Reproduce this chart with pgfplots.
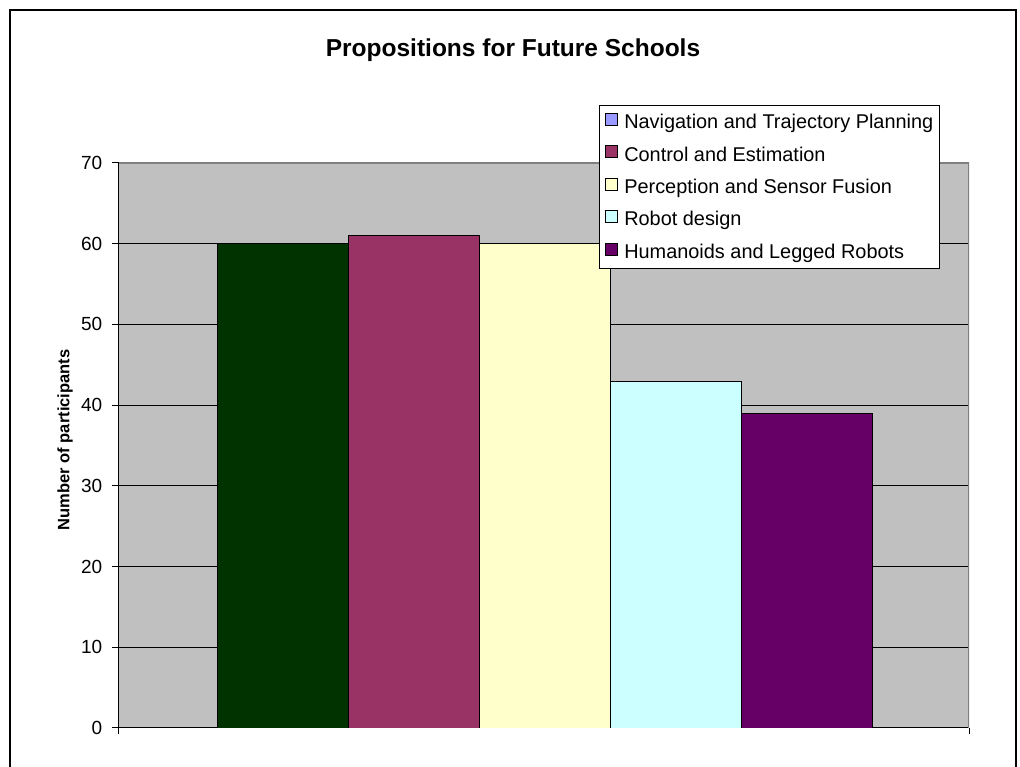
\documentclass[border=0pt]{standalone}
\usepackage{pgfplots}
\pgfplotsset{compat=1.18}
\usepackage{fontspec}
\setmainfont{Liberation Sans}

\definecolor{plotbg}{HTML}{C0C0C0}
\definecolor{barA}{HTML}{003300}
\definecolor{legA}{HTML}{9999FF}
\definecolor{barB}{HTML}{993366}
\definecolor{barC}{HTML}{FFFFCC}
\definecolor{barD}{HTML}{CCFFFF}
\definecolor{barE}{HTML}{660066}
\definecolor{edge}{HTML}{808080}

\pgfplotsset{
  swatch/.style={legend image code/.code={
      \draw[fill=#1,draw=black,line width=0.8pt] (0pt,-3pt) rectangle (12pt,9pt);}},
}

\begin{document}
\begin{tikzpicture}[x=1pt,y=1pt]
  \useasboundingbox (-119,-39) rectangle (901,728);
  \begin{axis}[
      at={(0,0)}, anchor=south west,
      scale only axis,
      width=850pt, height=565pt,
      ybar,
      bar width=1,
      xmin=-0.248, xmax=6.241,
      ymin=0, ymax=70,
      ytick={0,10,...,70},
      xtick={-0.248,6.241},
      xticklabels={},
      axis x line*=bottom,
      axis y line*=left,
      axis line style={-, black, line width=1pt},
      tick style={black, line width=1pt},
      tick align=outside,
      major tick length=6.5pt,
      ymajorgrids,
      grid style={black, line width=1pt},
      axis background/.style={fill=plotbg},
      /pgf/number format/assume math mode=true,
      yticklabel style={font=\fontsize{19}{22}\selectfont, anchor=east, inner sep=0pt, xshift=-10pt},
      every axis y label/.style={at={(axis description cs:-0.0635,0.51)}, rotate=90, anchor=center},
      ylabel={\fontsize{16.5}{19}\selectfont\bfseries Number of participants},
      legend style={
        at={(axis description cs:0.5647,1.1027)}, anchor=north west,
        draw=black, line width=1pt, fill=white,
        font=\fontsize{19.9}{23}\selectfont,
        inner xsep=6pt, inner ysep=7.5pt,
        row sep=13.8pt,
        nodes={inner sep=0pt, text height=15.5pt, text depth=3pt},
        /tikz/every odd column/.style={column sep=6pt},
        legend cell align=left,
      },
    ]
    \addplot[fill=barA, draw=black, line width=0.8pt, bar shift=0pt, forget plot] coordinates {(1,60)};
    \addplot[fill=barB, draw=black, line width=0.8pt, bar shift=0pt, forget plot] coordinates {(2,61)};
    \addplot[fill=barC, draw=black, line width=0.8pt, bar shift=0pt, forget plot] coordinates {(3,60)};
    \addplot[fill=barD, draw=black, line width=0.8pt, bar shift=0pt, forget plot] coordinates {(4,43)};
    \addplot[fill=barE, draw=black, line width=0.8pt, bar shift=0pt, forget plot] coordinates {(5,39)};

    \draw[edge, line width=1.5pt] (rel axis cs:0,1) -- (rel axis cs:1,1) -- (rel axis cs:1,0);

    \addlegendimage{swatch=legA}
    \addlegendentry{Navigation and Trajectory Planning}
    \addlegendimage{swatch=barB}
    \addlegendentry{Control and Estimation}
    \addlegendimage{swatch=barC}
    \addlegendentry{Perception and Sensor Fusion}
    \addlegendimage{swatch=barD}
    \addlegendentry{Robot design}
    \addlegendimage{swatch=barE}
    \addlegendentry{Humanoids and Legged Robots}
  \end{axis}
  \node[font=\fontsize{24.5}{28}\selectfont\bfseries] at (394,678) {Propositions for Future Schools};
  \draw[black, line width=1.5pt] (-109,-45) -- (-109,718) -- (897,718) -- (897,-45);
\end{tikzpicture}
\end{document}
